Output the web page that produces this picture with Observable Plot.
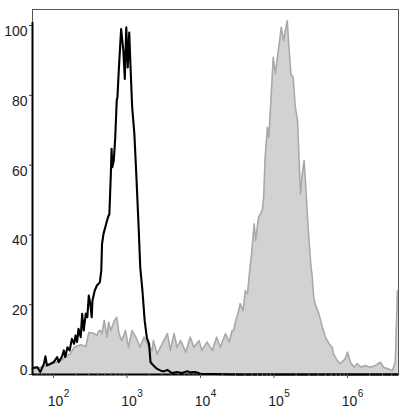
<!DOCTYPE html>
<html>
<head>
<meta charset="utf-8">
<script src="https://cdn.jsdelivr.net/npm/d3@7"></script>
<script src="https://cdn.jsdelivr.net/npm/@observablehq/plot@0.6"></script>
<style>
  html, body { margin: 0; padding: 0; background: #fff; }
</style>
</head>
<body>
<div id="chart"></div>
<script>
// Control (isotype) histogram: log10 of fluorescence and event counts (% of max)
const ctrlLog = [1.72,1.78,1.82,1.87,1.89,1.91,1.96,2.00,2.05,2.07,2.12,2.14,2.16,2.19,2.22,2.25,2.28,2.30,2.32,2.34,2.37,2.39,2.41,2.44,2.46,2.48,2.50,2.52,2.53,2.56,2.59,2.63,2.65,2.66,2.68,2.74,2.76,2.78,2.79,2.80,2.82,2.84,2.86,2.87,2.89,2.92,2.95,2.97,2.99,3.01,3.03,3.05,3.07,3.10,3.13,3.16,3.18,3.21,3.23,3.24,3.27,3.30,3.32,3.36,3.41,3.46,3.50,3.55,3.61,3.68,3.75,3.82,3.86,3.93,4.00,4.50,5.00,5.50,6.00,6.69];
const ctrlCount = [1.9,2.1,0.7,3.1,5.2,2.6,3.1,3.5,5.0,3.5,5.4,6.9,5.0,7.8,6.9,10.2,8.8,11.2,9.3,13.1,10.7,17.4,12.6,17.5,16.4,22.6,20.3,16.4,21.2,24.0,25.5,26.4,29.8,37.4,40.3,45.0,46.0,57.5,64.7,59.4,61.3,68.0,78.5,79.5,88.0,99.0,92.8,84.7,99.5,88.0,98.0,87.0,76.6,69.0,55.6,41.3,30.7,24.0,18.3,15.5,10.5,8.8,3.5,2.6,1.6,1.1,0.9,1.3,0.4,0.7,0.4,0.9,0.6,0.7,0.2,0,0,0,0,0];

// Stained sample histogram
const stainLog = [1.71,1.82,1.96,2.10,2.16,2.23,2.28,2.37,2.44,2.48,2.55,2.59,2.62,2.64,2.66,2.69,2.73,2.75,2.78,2.83,2.86,2.89,2.93,2.98,3.02,3.07,3.12,3.16,3.18,3.23,3.30,3.34,3.36,3.41,3.48,3.55,3.59,3.64,3.68,3.73,3.80,3.86,3.91,3.98,4.02,4.09,4.16,4.22,4.27,4.34,4.39,4.43,4.45,4.48,4.52,4.54,4.58,4.61,4.64,4.67,4.70,4.73,4.75,4.79,4.84,4.86,4.88,4.91,4.93,4.95,4.99,5.02,5.07,5.10,5.13,5.18,5.20,5.23,5.26,5.29,5.32,5.34,5.36,5.38,5.41,5.43,5.46,5.50,5.52,5.54,5.56,5.61,5.66,5.70,5.75,5.79,5.81,5.86,5.90,5.97,6.00,6.04,6.09,6.13,6.18,6.24,6.31,6.38,6.45,6.49,6.56,6.61,6.65,6.68,6.69];
const stainCount = [1.5,2.0,3.0,4.0,5.0,6.0,7.8,8.5,8.0,12.0,11.8,11.2,12.6,12.6,11.7,15.5,10.7,15.0,12.6,15.5,16.4,11.7,9.7,12.6,7.8,12.6,10.7,8.8,7.8,10.7,7.8,6.9,9.7,5.9,8.8,11.7,6.9,11.7,7.8,9.7,6.4,10.7,7.8,9.7,6.9,9.3,6.9,10.7,7.8,11.7,9.3,12.6,12.6,15.5,18.3,20.3,18.3,24.0,23.1,29.8,35.5,43.2,38.4,45.0,47.0,50.8,62.3,70.8,68.0,75.6,90.9,86.2,94.7,99.5,95.7,101.4,94.7,86.2,85.2,76.6,72.8,62.3,51.8,56.6,61.3,54.6,43.2,31.7,27.9,22.1,20.3,17.4,13.5,10.7,8.8,7.8,5.9,4.0,3.1,4.5,6.4,3.5,2.1,3.1,2.1,2.6,2.1,2.6,3.5,2.1,1.6,1.1,3.5,24.0,24.0];

// Axis ticks
const xExponents = [2, 3, 4, 5, 6];
const yTickValues = [20, 40, 60, 80, 100];
const yZero = [0];

const ctrl = ctrlLog.map((e, i) => ({x: Math.pow(10, e), y: ctrlCount[i]}));
const stain = stainLog.map((e, i) => ({x: Math.pow(10, e), y: stainCount[i]}));

const xMin = Math.pow(10, 1.714);
const xMax = Math.pow(10, 6.694);
const majorTicks = xExponents.map(e => Math.pow(10, e));
const minorTicks = [];
for (let e = 1; e <= 6; e++) for (let m = 2; m <= 9; m++) {
  const v = m * Math.pow(10, e);
  if (v >= xMin && v <= xMax) minorTicks.push(v);
}

const font = "'Liberation Sans', Arial, sans-serif";

const chart = Plot.plot({
  width: 409,
  height: 420,
  marginLeft: 32,
  marginRight: 11,
  marginTop: 9,
  marginBottom: 46,
  style: {fontFamily: font, background: "#fff", color: "#222"},
  x: {type: "log", domain: [xMin, xMax], axis: null, label: null},
  y: {domain: [0, 104.6], axis: null, label: null},
  marks: [
    Plot.areaY(stain, {x: "x", y: "y", fill: "#d2d2d2", curve: "linear"}),
    Plot.lineY(stain, {x: "x", y: "y", stroke: "#a9a9a9", strokeWidth: 1.6}),
    Plot.lineY(ctrl, {x: "x", y: "y", stroke: "#000", strokeWidth: 2.1}),
    Plot.frame({stroke: "#555", strokeWidth: 1}),
    Plot.ruleY([0], {stroke: "#000", strokeWidth: 2.2}),
    Plot.ruleX([xMin], {y1: 0, y2: 100.9, stroke: "#000", strokeWidth: 2}),
    Plot.axisX({ticks: minorTicks, tickSize: 2, tickFormat: () => "", stroke: "#777", label: null}),
    Plot.axisX({ticks: majorTicks, tickSize: 4, tickFormat: () => "", stroke: "#555", label: null}),
    Plot.axisY({ticks: [0, ...yTickValues], tickSize: 3, tickFormat: () => "", stroke: "#333", label: null}),
    Plot.text(majorTicks, {x: d => d, frameAnchor: "bottom", text: () => "10", dx: 2, dy: 31.5, fontSize: 14, fill: "#222", textAnchor: "middle"}),
    Plot.text(xExponents, {x: d => Math.pow(10, d), frameAnchor: "bottom", text: d => String(d), dx: 13, dy: 22, fontSize: 10, fill: "#222", textAnchor: "middle"}),
    Plot.text(yTickValues, {y: d => d, frameAnchor: "left", text: d => String(d), dx: -5, dy: 6, fontSize: 14, fill: "#222", textAnchor: "end"}),
    Plot.text(yZero, {y: d => d, frameAnchor: "left", text: d => String(d), dx: -5, dy: -4, fontSize: 14, fill: "#222", textAnchor: "end"})
  ]
});
document.getElementById("chart").appendChild(chart);
</script>
</body>
</html>
